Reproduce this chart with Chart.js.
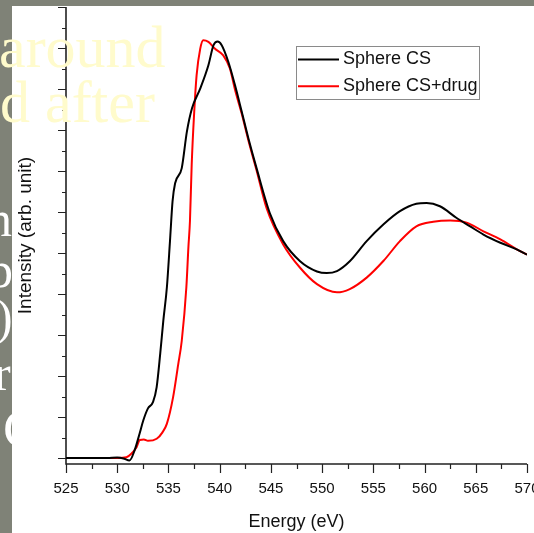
<!DOCTYPE html>
<html>
<head>
<meta charset="utf-8">
<script src="https://cdn.jsdelivr.net/npm/chart.js@4.4.0/dist/chart.umd.min.js"></script>
<style>
html, body { margin: 0; padding: 0; width: 534px; height: 533px; overflow: hidden; background: #7f8277; }
#wrap { position: absolute; left: 12px; top: 6px; width: 522px; height: 527px; background: #fff; }
.slide { position: absolute; font-family: "Liberation Serif", serif; line-height: 1; white-space: nowrap; pointer-events: none; }
.yel { color: #fffbcc; font-size: 60px; }
.wht { color: #fff; font-size: 50px; }
</style>
</head>
<body>
<div id="wrap"><canvas id="chart" width="522" height="527"></canvas></div>
<!-- bits of the slide text that sit over the picture -->
<div class="slide yel" style="left:-1px; top:17px;">around</div>
<div class="slide yel" style="left:0px; top:72px;">d after</div>
<div class="slide wht" style="left:-13px; top:194px;">n</div>
<div class="slide wht" style="left:-12px; top:245px;">p</div>
<div class="slide wht" style="left:-4px; top:292px;">)</div>
<div class="slide wht" style="left:-6px; top:348px;">r</div>
<div class="slide wht" style="left:3px; top:401px; font-size:55px;">C</div>
<script>
'use strict';
// O K-edge spectra
var csEnergy = [525, 526, 527, 528, 529, 530, 530.6, 531.2, 531.7, 532.2, 532.55, 533.0, 533.5, 533.85, 534.2, 534.5, 534.85, 535.15, 535.4, 535.65,
  536.3, 536.8, 537.3, 538.1, 538.9, 539.4, 539.8, 540.2, 540.85, 541.5, 542.15, 542.8, 543.6, 544.9, 546.2, 547.85, 549.5, 550.45, 551.45, 552.7,
  554.35, 556.0, 557.6, 559.2, 560.2, 561.5, 563.1, 564.45, 565.75, 567.4, 569.0, 570];
var csIntensity = [0, 0, 0, 0, 0, 0.01, -0.01, -0.06, 0.19, 0.61, 0.92, 1.21, 1.37, 1.73, 2.55, 3.35, 4.17, 5.29, 6.26, 6.70,
  7.07, 7.96, 8.53, 9.01, 9.58, 10.07, 10.16, 10.07, 9.66, 9.09, 8.45, 7.80, 7.07, 5.97, 5.29, 4.80, 4.55, 4.51, 4.56, 4.80,
  5.29, 5.70, 6.02, 6.20, 6.22, 6.14, 5.86, 5.65, 5.45, 5.25, 5.09, 4.96];
var drugEnergy = [525, 526, 527, 528, 529, 530, 530.9, 531.4, 531.9, 532.2, 532.6, 533.0, 533.85, 534.4, 534.85, 535.45, 535.95, 536.3, 536.75, 536.95,
  537.1, 537.27, 537.5, 537.75, 538.1, 538.4, 538.9, 539.55, 540.35, 541.0, 541.5, 542.15, 542.8, 543.6, 544.6, 546.2, 547.85, 549.5, 551.45, 552.7,
  554.35, 556.0, 557.6, 559.2, 560.85, 562.5, 564.1, 565.75, 567.4, 569.0, 570];
var drugIntensity = [0, 0, 0, 0, 0, 0, 0.02, 0.11, 0.27, 0.44, 0.45, 0.42, 0.47, 0.62, 0.84, 1.48, 2.28, 2.86, 4.17, 5.15,
  5.78, 7.16, 8.37, 9.34, 9.98, 10.19, 10.15, 9.98, 9.82, 9.50, 8.98, 8.40, 7.75, 7.02, 6.08, 5.21, 4.64, 4.24, 4.04, 4.12,
  4.40, 4.81, 5.29, 5.65, 5.76, 5.79, 5.74, 5.53, 5.33, 5.09, 4.96];
var seriesNames = ['Sphere CS', 'Sphere CS+drug'];
var seriesColors = ['#000000', '#ff0000'];

function pairs(xs, ys) {
  return xs.map(function(v, i) { return {x: v, y: ys[i]}; });
}

var fam = '"Liberation Sans", Arial, sans-serif';

// axis lines with long/short tick marks pointing outward
var axisTicks = {
  id: 'axisTicks',
  beforeDatasetsDraw: function(chart) {
    var ctx = chart.ctx, a = chart.chartArea, x = chart.scales.x, y = chart.scales.y;
    ctx.save();
    ctx.strokeStyle = '#222';
    ctx.lineWidth = 1.6;
    ctx.beginPath();
    ctx.moveTo(a.left, a.top);
    ctx.lineTo(a.left, a.bottom);
    ctx.lineTo(a.right, a.bottom);
    ctx.stroke();
    ctx.lineWidth = 1.2;
    ctx.beginPath();
    for (var v = 0; v <= y.max + 1e-9; v += 0.5) {
      var py = Math.round(y.getPixelForValue(v)) + 0.5;
      var len = v % 1 === 0 ? 8 : 4;
      ctx.moveTo(a.left - len, py);
      ctx.lineTo(a.left, py);
    }
    for (var w = x.min; w <= x.max + 1e-9; w += 2.5) {
      var px = Math.round(x.getPixelForValue(w)) + 0.5;
      var l2 = w % 5 === 0 ? 9 : 5;
      ctx.moveTo(px, a.bottom);
      ctx.lineTo(px, a.bottom + l2);
    }
    ctx.stroke();
    ctx.restore();
  }
};

// boxed legend inside the plot, like the original
var boxLegend = {
  id: 'boxLegend',
  afterDatasetsDraw: function(chart) {
    var ctx = chart.ctx, a = chart.chartArea;
    var left = a.left + 230, top = a.top + 39, bw = 183, bh = 53;
    ctx.save();
    ctx.fillStyle = '#fff';
    ctx.fillRect(left, top, bw, bh);
    ctx.strokeStyle = '#8a8a8a';
    ctx.lineWidth = 1;
    ctx.strokeRect(left + 0.5, top + 0.5, bw, bh);
    ctx.font = '18px ' + fam;
    ctx.textBaseline = 'middle';
    chart.data.datasets.forEach(function(ds, i) {
      var yy = top + 13.5 + i * 26.7;
      ctx.strokeStyle = ds.borderColor;
      ctx.lineWidth = 2;
      ctx.beginPath();
      ctx.moveTo(left + 2, yy);
      ctx.lineTo(left + 43, yy);
      ctx.stroke();
      ctx.fillStyle = '#111';
      ctx.fillText(ds.label, left + 47, yy);
    });
    ctx.restore();
  }
};

var ctx = document.getElementById('chart').getContext('2d');
var chart = new Chart(ctx, {
  type: 'line',
  data: {
    datasets: [
      { label: seriesNames[0], data: pairs(csEnergy, csIntensity), borderColor: seriesColors[0] },
      { label: seriesNames[1], data: pairs(drugEnergy, drugIntensity), borderColor: seriesColors[1] }
    ]
  },
  options: {
    responsive: false,
    animation: false,
    layout: { padding: { left: 0, right: 7, top: 1, bottom: 0 } },
    plugins: { legend: { display: false }, tooltip: { enabled: false } },
    elements: {
      point: { radius: 0 },
      line: { borderWidth: 2, cubicInterpolationMode: 'monotone', fill: false }
    },
    scales: {
      x: {
        type: 'linear', min: 525, max: 570,
        grid: { display: false, drawTicks: false }, border: { display: false },
        ticks: { stepSize: 5, padding: 16, color: '#111', font: { family: fam, size: 15 } },
        title: { display: true, text: 'Energy (eV)', color: '#111', font: { family: fam, size: 18 }, padding: { top: 0, bottom: 0 } },
        afterFit: function(s) { s.height = 69; s.paddingLeft = 0; s.paddingRight = 0; }
      },
      y: {
        min: -0.146, max: 11,
        grid: { display: false, drawTicks: false }, border: { display: false },
        ticks: { display: false },
        title: { display: true, text: 'Intensity (arb. unit)', color: '#111', font: { family: fam, size: 19 }, padding: { top: 2, bottom: 0 } },
        afterFit: function(s) { s.width = 54; }
      }
    }
  },
  plugins: [axisTicks, boxLegend]
});
</script>
</body>
</html>
